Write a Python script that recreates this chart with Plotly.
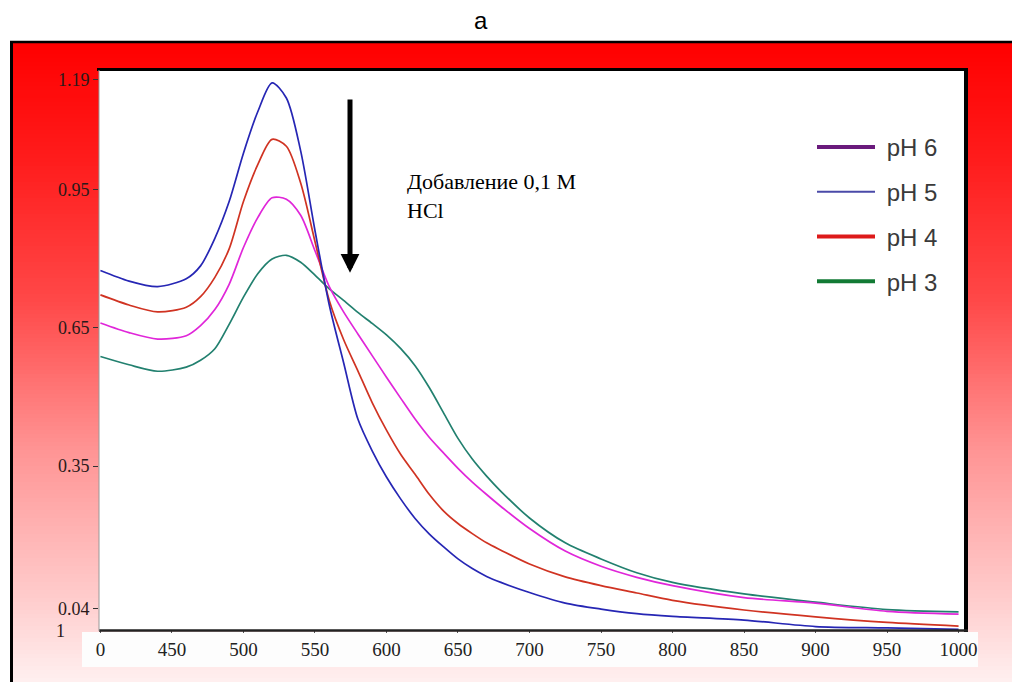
import plotly.graph_objects as go

# ---------------- data ----------------
wavelength = [400, 420, 440, 460, 470, 480, 490, 500, 510, 520, 530, 540, 550, 560, 570, 580,
              590, 600, 610, 620, 630, 640, 650, 660, 670, 680, 700, 725, 750, 775, 800, 850,
              900, 950, 1000]

blue_curve = [0.775, 0.752, 0.740, 0.757, 0.785, 0.845, 0.925, 1.030, 1.120, 1.183, 1.150, 1.035,
              0.862, 0.700, 0.575, 0.452, 0.383, 0.326, 0.278, 0.236, 0.202, 0.174, 0.148, 0.127,
              0.110, 0.097, 0.075, 0.052, 0.039, 0.029, 0.023, 0.015, 0.001, -0.002, -0.005]
red_curve = [0.722, 0.700, 0.685, 0.695, 0.718, 0.760, 0.822, 0.925, 1.005, 1.060, 1.045, 0.965,
             0.838, 0.710, 0.625, 0.557, 0.488, 0.428, 0.375, 0.332, 0.288, 0.252, 0.225, 0.203,
             0.183, 0.167, 0.137, 0.109, 0.090, 0.074, 0.058, 0.037, 0.022, 0.010, 0.002]
magenta_curve = [0.661, 0.640, 0.626, 0.633, 0.655, 0.690, 0.745, 0.825, 0.890, 0.933, 0.930, 0.895,
                 0.818, 0.740, 0.685, 0.637, 0.590, 0.543, 0.497, 0.452, 0.412, 0.378, 0.345, 0.315,
                 0.288, 0.262, 0.214, 0.165, 0.132, 0.108, 0.090, 0.064, 0.052, 0.034, 0.028]
teal_curve = [0.588, 0.570, 0.556, 0.565, 0.580, 0.605, 0.658, 0.717, 0.768, 0.800, 0.808, 0.793,
              0.765, 0.735, 0.710, 0.684, 0.660, 0.635, 0.605, 0.568, 0.520, 0.465, 0.410, 0.365,
              0.328, 0.295, 0.237, 0.183, 0.148, 0.118, 0.097, 0.072, 0.054, 0.038, 0.033]

legend_names = ["pH 6", "pH 5", "pH 4", "pH 3"]

x_tickvals = [400, 450, 500, 550, 600, 650, 700, 750, 800, 850, 900, 950, 1000]
x_ticktext = ["0", "450", "500", "550", "600", "650", "700", "750", "800", "850", "900", "950", "1000"]
y_tickvals = [0.04, 0.35, 0.65, 0.95, 1.19]
y_ticktext = ["0.04", "0.35", "0.65", "0.95", "1.19"]

# ---------------- geometry helpers (pixels -> paper) ----------------
W, H = 1012, 682


def px(x):
    return x / W


def py(y):
    return 1 - y / H


SERIF = "Liberation Serif, Times New Roman, serif"
SANS = "Liberation Sans, Arial, sans-serif"

fig = go.Figure()

curve_styles = [
    (teal_curve, "#22806f"),
    (magenta_curve, "#e026d9"),
    (red_curve, "#d03322"),
    (blue_curve, "#2626b4"),
]
for ys, col in curve_styles:
    fig.add_trace(go.Scatter(
        x=wavelength, y=ys, mode="lines",
        line=dict(color=col, width=1.7, shape="spline", smoothing=0.8),
        showlegend=False, hoverinfo="skip",
    ))

legend_styles = [("#6a1a7c", 4), ("#4a4aa8", 2), ("#dd1a1a", 4), ("#127a34", 4)]
for name, (col, w) in zip(legend_names, legend_styles):
    fig.add_trace(go.Scatter(
        x=[None], y=[None], mode="lines", name="\u00a0" + name,
        line=dict(color=col, width=w), legendgroup=name,
    ))

shapes = []
# red -> pale pink vertical gradient of the outer frame
stops = [(42, 0), (150, 25), (300, 72), (450, 148), (600, 205), (682, 240)]


def gb_at(y):
    for (y0, v0), (y1, v1) in zip(stops[:-1], stops[1:]):
        if y0 <= y <= y1:
            return v0 + (v1 - v0) * (y - y0) / (y1 - y0)
    return stops[-1][1]


step = 4
yy = 42
while yy < H:
    v = int(round(gb_at(yy + step / 2)))
    shapes.append(dict(type="rect", xref="paper", yref="paper", layer="below",
                       x0=px(10), x1=1.0, y0=py(min(yy + step + 0.5, H)), y1=py(yy),
                       fillcolor=f"rgb(255,{v},{v})", line=dict(width=0)))
    yy += step

# white plot area and white strip behind x tick labels
shapes.append(dict(type="rect", xref="paper", yref="paper", layer="below",
                   x0=px(99), x1=px(966), y0=py(630), y1=py(69),
                   fillcolor="white", line=dict(width=0)))
shapes.append(dict(type="rect", xref="paper", yref="paper", layer="below",
                   x0=px(82), x1=px(978), y0=py(667), y1=py(632),
                   fillcolor="#fdfdfd", line=dict(width=0)))
# outer frame border
shapes.append(dict(type="line", xref="paper", yref="paper", layer="above",
                   x0=px(11.5), x1=px(11.5), y0=0, y1=py(41), line=dict(color="black", width=3)))
shapes.append(dict(type="line", xref="paper", yref="paper", layer="above",
                   x0=px(10), x1=1.0, y0=py(42), y1=py(42), line=dict(color="black", width=2.5)))
# plot frame
shapes.append(dict(type="line", xref="paper", yref="paper", layer="above",
                   x0=px(97), x1=px(968), y0=py(69.5), y1=py(69.5), line=dict(color="black", width=3)))
shapes.append(dict(type="line", xref="paper", yref="paper", layer="above",
                   x0=px(966), x1=px(966), y0=py(632), y1=py(68), line=dict(color="black", width=4)))
shapes.append(dict(type="line", xref="paper", yref="paper", layer="above",
                   x0=px(99), x1=px(968), y0=py(630.5), y1=py(630.5), line=dict(color="#222", width=2.5)))
shapes.append(dict(type="line", xref="paper", yref="paper", layer="above",
                   x0=px(99), x1=px(99), y0=py(631), y1=py(70), line=dict(color="#999", width=1)))

annotations = [
    dict(text="a", xref="paper", yref="paper", x=px(481), y=py(21), showarrow=False,
         xanchor="center", yanchor="middle", font=dict(family=SANS, size=24, color="black")),
    dict(text="1", xref="paper", yref="paper", x=px(60), y=py(631), showarrow=False,
         xanchor="center", yanchor="middle", font=dict(family=SERIF, size=18, color="#2a1a1a")),
    # arrow
    dict(text="", x=574.5, y=0.770, ax=574.5, ay=1.150, xref="x", yref="y", axref="x", ayref="y",
         showarrow=True, arrowhead=2, arrowwidth=5, arrowsize=0.75, arrowcolor="black"),
    dict(text="Добавление 0,1 М<br>HCl", x=px(405), y=py(196), xref="paper", yref="paper",
         showarrow=False, xanchor="left", yanchor="middle", align="left",
         font=dict(family=SERIF, size=22, color="black")),
]

fig.update_layout(
    width=W, height=H, autosize=False,
    margin=dict(l=0, r=0, t=0, b=0, autoexpand=False),
    paper_bgcolor="white", plot_bgcolor="white",
    shapes=shapes, annotations=annotations,
    showlegend=True,
    legend=dict(x=px(812), y=py(125), xanchor="left", yanchor="top",
                bgcolor="rgba(255,255,255,0)", borderwidth=0,
                font=dict(family=SANS, size=24, color="#3a3a3a"),
                tracegroupgap=10.5, itemwidth=58),
    xaxis=dict(domain=[px(99), px(966)], range=[399, 1005.2], automargin=False,
               tickvals=x_tickvals, ticktext=x_ticktext, ticks="outside", ticklen=2,
               tickcolor="#555", showgrid=False, zeroline=False, showline=False,
               tickfont=dict(family=SERIF, size=19, color="#222")),
    yaxis=dict(domain=[py(630), py(69)], range=[-0.0065, 1.213], automargin=False,
               tickvals=y_tickvals, ticktext=y_ticktext, ticks="outside", ticklen=5,
               tickcolor="#333", showgrid=False, zeroline=False, showline=False,
               tickfont=dict(family=SERIF, size=18, color="#2a1a1a")),
)

fig.write_html("out.html", config={"responsive": False, "displayModeBar": False})
